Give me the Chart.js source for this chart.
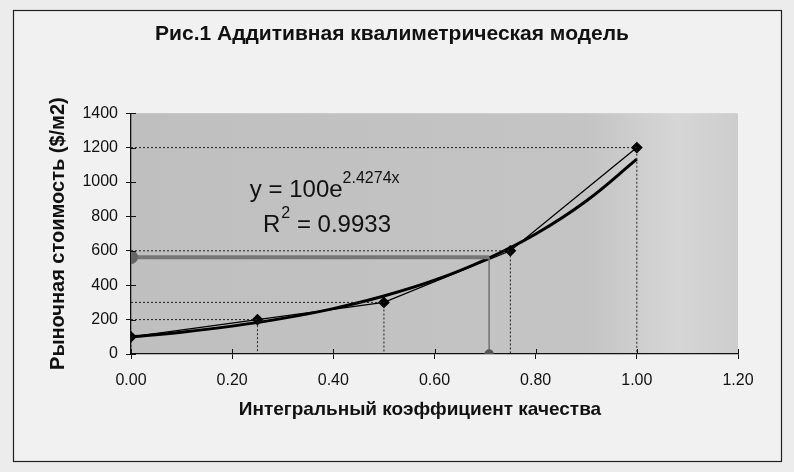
<!DOCTYPE html>
<html>
<head>
<meta charset="utf-8">
<script src="https://cdn.jsdelivr.net/npm/chart.js@4"></script>
<style>
  html, body { margin: 0; padding: 0; background: #ececec; }
  #wrap { width: 794px; height: 472px; }
</style>
</head>
<body>
<div id="wrap"><canvas id="c" width="794" height="472"></canvas></div>
<script>
// ── data ──
const qualityX = [0.00, 0.25, 0.50, 0.75, 1.00];
const priceY = [100, 200, 300, 600, 1200];
// exponential trend curve, read at steps of 0.1
const trendX = [0.0, 0.1, 0.2, 0.3, 0.4, 0.5, 0.6, 0.7, 0.8, 0.9, 1.0];
const trendY = [100, 127, 162, 207, 264, 337, 429, 548, 698, 890, 1133];
// read-off line (grey)
const readX = 0.708;
const readY = 563;
const xTickVals = [0, 0.2, 0.4, 0.6, 0.8, 1.0, 1.2];
const yTickVals = [0, 200, 400, 600, 800, 1000, 1200, 1400];

const TXT = '#111';
const FONT = '"Liberation Sans", Arial, sans-serif';

// dotted drop lines from every point to both axes
const dropPts = [];
qualityX.forEach((x, i) => {
    dropPts.push({ x: 0, y: priceY[i] }, { x: x, y: priceY[i] }, { x: x, y: 0 }, { x: x, y: null });
});

// ── plugins ──
const frame = {
    id: 'frame',
    beforeDraw(chart) {
        const c = chart.ctx;
        c.save();
        c.fillStyle = '#f1f1f1';
        c.fillRect(13, 10, 769, 452);
        c.strokeStyle = '#222';
        c.lineWidth = 1.2;
        c.strokeRect(13.5, 10.5, 768, 451);
        const a = chart.chartArea;
        const g = c.createLinearGradient(a.left, 0, a.right, 0);
        g.addColorStop(0, '#bfbfbf');
        g.addColorStop(0.75, '#c4c4c4');
        g.addColorStop(0.9, '#d6d6d6');
        g.addColorStop(1, '#cdcdcd');
        c.fillStyle = g;
        c.fillRect(a.left, a.top, a.right - a.left, a.bottom - a.top);
        c.restore();
    }
};

const innerTicks = {
    id: 'innerTicks',
    afterDraw(chart) {
        const c = chart.ctx, xs = chart.scales.x, ys = chart.scales.y;
        c.save();
        c.strokeStyle = '#111';
        c.lineWidth = 1;
        c.beginPath();
        xs.ticks.forEach(t => {
            const px = Math.round(xs.getPixelForValue(t.value)) + 0.5;
            c.moveTo(px, ys.bottom);
            c.lineTo(px, ys.bottom - 5);
        });
        ys.ticks.forEach(t => {
            const py = Math.round(ys.getPixelForValue(t.value)) + 0.5;
            c.moveTo(xs.left, py);
            c.lineTo(xs.left + 5, py);
        });
        c.stroke();
        // x axis title, set a little left of the plot centre as in the original
        c.fillStyle = TXT;
        c.font = 'bold 19px ' + FONT;
        c.textAlign = 'center';
        c.textBaseline = 'middle';
        c.fillText('Интегральный коэффициент качества', 420, 410);
        c.restore();
    }
};

const equation = {
    id: 'equation',
    afterDatasetsDraw(chart) {
        const c = chart.ctx, xs = chart.scales.x, ys = chart.scales.y;
        c.save();
        c.fillStyle = TXT;
        c.textBaseline = 'alphabetic';
        c.textAlign = 'left';
        let x = xs.getPixelForValue(0.235), y = ys.getPixelForValue(912);
        c.font = '24px ' + FONT;
        c.fillText('y = 100e', x, y);
        x += c.measureText('y = 100e').width;
        c.font = '16px ' + FONT;
        c.fillText('2.4274x', x, y - 14);
        x = xs.getPixelForValue(0.261); y = ys.getPixelForValue(709);
        c.font = '24px ' + FONT;
        c.fillText('R', x, y);
        x += c.measureText('R').width;
        c.font = '16px ' + FONT;
        c.fillText('2', x + 1, y - 14);
        x += c.measureText('2').width + 1;
        c.font = '24px ' + FONT;
        c.fillText(' = 0.9933', x, y);
        c.restore();
    }
};

new Chart(document.getElementById('c'), {
    type: 'scatter',
    data: {
        datasets: [
            {
                data: dropPts,
                showLine: true,
                spanGaps: false,
                borderColor: '#222',
                borderWidth: 1,
                borderDash: [2, 2],
                pointRadius: 0,
            },
            {
                data: [{ x: readX, y: readY }, { x: readX, y: 0 }],
                showLine: true,
                borderColor: '#707070',
                borderWidth: 1.5,
                pointRadius: [0, 4],
                pointBackgroundColor: '#555',
                pointBorderColor: '#555',
            },
            {
                data: [{ x: 0, y: readY }, { x: readX, y: readY }],
                showLine: true,
                borderColor: '#767676',
                borderWidth: 4,
                pointRadius: [5, 0],
                pointBackgroundColor: '#666',
                pointBorderColor: '#666',
            },
            {
                data: trendX.map((x, i) => ({ x, y: trendY[i] })),
                showLine: true,
                borderColor: '#000',
                borderWidth: 3,
                tension: 0.4,
                pointRadius: 0,
            },
            {
                data: qualityX.map((x, i) => ({ x, y: priceY[i] })),
                showLine: true,
                borderColor: '#000',
                borderWidth: 1.3,
                pointStyle: 'rectRot',
                pointRadius: 5,
                pointBackgroundColor: '#000',
                pointBorderColor: '#000',
            },
        ]
    },
    options: {
        responsive: false,
        animation: false,
        layout: { padding: { left: 46, right: 56, top: 0, bottom: 0 } },
        plugins: {
            legend: { display: false },
            tooltip: { enabled: false },
            title: {
                display: true,
                text: 'Рис.1 Аддитивная квалиметрическая модель',
                color: TXT,
                font: { family: FONT, size: 21, weight: 'bold' },
                padding: { top: 22, bottom: 66 }
            }
        },
        scales: {
            x: {
                type: 'linear',
                min: 0,
                max: 1.2,
                afterBuildTicks: s => { s.ticks = xTickVals.map(v => ({ value: v })); },
                afterFit: s => { s.height = 118; },
                border: { color: '#111', width: 1.3 },
                grid: { drawOnChartArea: false, color: '#111', tickLength: 5 },
                ticks: {
                    color: TXT,
                    padding: 12,
                    font: { family: FONT, size: 16 },
                    callback: v => v.toFixed(2)
                }
            },
            y: {
                min: 0,
                max: 1400,
                afterBuildTicks: s => { s.ticks = yTickVals.map(v => ({ value: v })); },
                afterFit: s => { s.width = 85; },
                border: { color: '#111', width: 1.3 },
                grid: { drawOnChartArea: false, color: '#111', tickLength: 5 },
                ticks: {
                    color: TXT,
                    padding: 8,
                    font: { family: FONT, size: 16 },
                    callback: v => String(v)
                },
                title: {
                    display: true,
                    text: 'Рыночная стоимость ($/м2)',
                    color: TXT,
                    font: { family: FONT, size: 20, weight: 'bold' },
                    padding: { top: 0, bottom: 0 }
                }
            }
        }
    },
    plugins: [frame, innerTicks, equation]
});
</script>
</body>
</html>
